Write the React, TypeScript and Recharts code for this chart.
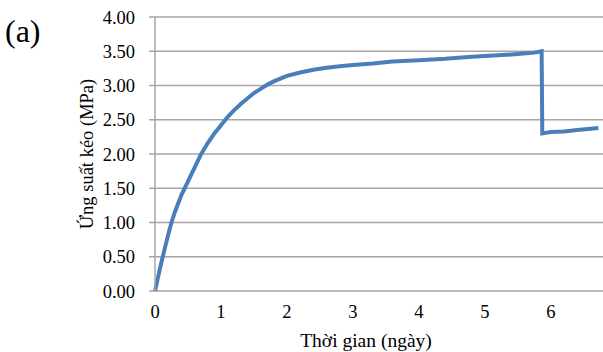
import React from 'react';
import { LineChart, Line, XAxis, YAxis, CartesianGrid } from 'recharts';

const days = [
  0, 0.05, 0.1, 0.15, 0.2, 0.25, 0.3, 0.4, 0.5, 0.6, 0.7, 0.8, 0.9, 1.0, 1.1, 1.2, 1.3, 1.4,
  1.5, 1.6, 1.7, 1.8, 1.9, 2.0, 2.2, 2.4, 2.6, 2.8, 3.0, 3.3, 3.6, 4.0, 4.4, 4.8, 5.2, 5.5,
  5.75, 5.86, 5.87, 6.0, 6.2, 6.4, 6.6, 6.72,
];
const stress = [
  0, 0.22, 0.43, 0.63, 0.82, 1.0, 1.15, 1.4, 1.6, 1.8, 2.0, 2.16, 2.3, 2.42, 2.54, 2.64, 2.73, 2.81,
  2.89, 2.95, 3.01, 3.06, 3.1, 3.14, 3.19, 3.23, 3.26, 3.28, 3.3, 3.32, 3.35, 3.37, 3.39, 3.42, 3.44, 3.46,
  3.48, 3.5, 2.3, 2.32, 2.33, 2.35, 2.37, 2.38,
];
const xTicks = [0, 1, 2, 3, 4, 5, 6];
const yTicks = [0, 0.5, 1, 1.5, 2, 2.5, 3, 3.5, 4];

const data = days.map((t, i) => ({ t, s: stress[i] }));

const font = '"Liberation Serif", "Times New Roman", serif';
const gray = '#a6a6a6';
const blue = '#4a7ebb';

export default function App() {
  return (
    <div style={{ position: 'relative', width: 603, height: 352, fontFamily: font, background: '#fff' }}>
      <style>{`body{margin:0}`}</style>
      <div style={{ position: 'absolute', left: 5, top: 15, fontSize: 32, lineHeight: 1, color: '#000' }}>(a)</div>
      <LineChart width={603} height={352} data={data} margin={{ top: 17, right: 0, left: 0, bottom: 0 }}>
        <CartesianGrid vertical={false} stroke={gray} strokeWidth={1.5} />
        <XAxis
          type="number"
          dataKey="t"
          domain={[0, 6.79]}
          ticks={xTicks}
          height={61}
          axisLine={false}
          tickLine={false}
          tickMargin={8}
          tick={{ fill: '#000', fontSize: 18.5, fontFamily: font }}
          label={{ value: 'Thời gian (ngày)', position: 'insideBottom', offset: 5, dx: -13, fill: '#000', fontSize: 19.5, fontFamily: font }}
        />
        <YAxis
          type="number"
          domain={[0, 4]}
          ticks={yTicks}
          width={155}
          stroke={gray}
          strokeWidth={1.5}
          tickSize={6}
          tickMargin={14}
          tickFormatter={(v: number) => v.toFixed(2)}
          tick={{ fill: '#000', fontSize: 18.5, fontFamily: font }}
          label={{ value: 'Ứng suất kéo (MPa)', angle: -90, position: 'insideLeft', offset: 86, style: { textAnchor: 'middle' }, fill: '#000', fontSize: 18.5, fontFamily: font }}
        />
        <Line
          type="linear"
          dataKey="s"
          stroke={blue}
          strokeWidth={4}
          dot={false}
          isAnimationActive={false}
        />
      </LineChart>
    </div>
  );
}
